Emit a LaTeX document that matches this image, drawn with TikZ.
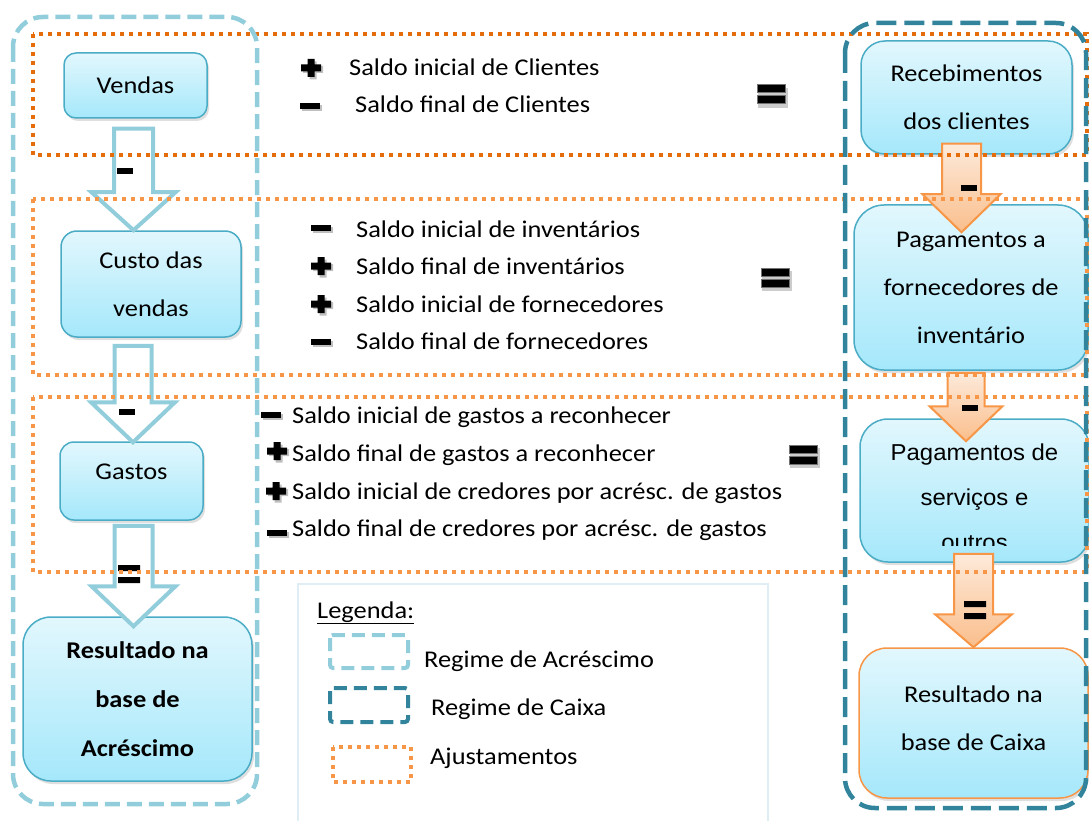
\documentclass[tikz,border=0pt]{standalone}
\usepackage{fontspec}
\setmainfont{Carlito}[FakeStretch=1.1]
\newfontfamily\arialfont{Liberation Sans}[FakeStretch=1.04]
\usepackage{tikz}
\usetikzlibrary{positioning,calc,shadows}

\definecolor{acrblue}{RGB}{146,205,220}
\definecolor{caixateal}{RGB}{49,132,155}
\definecolor{ajdark}{RGB}{228,108,10}
\definecolor{ajlight}{RGB}{247,150,70}
\definecolor{boxline}{RGB}{75,172,198}
\definecolor{boxtop}{RGB}{226,247,253}
\definecolor{boxbot}{RGB}{165,232,251}
\definecolor{arrtop}{RGB}{253,234,218}
\definecolor{arrbot}{RGB}{250,190,140}
\definecolor{legline}{RGB}{222,238,244}

\tikzset{
  flowbox/.style={draw=boxline, line width=1.5pt, rounded corners=24pt, top color=boxtop, bottom color=boxbot,
    align=center, inner sep=0pt, font=\fontsize{24}{48}\selectfont,
    drop shadow={opacity=0.25, shadow xshift=2pt, shadow yshift=-3pt}},
  adjtext/.style={anchor=base west, inner sep=0pt, font=\fontsize{24}{28}\selectfont},
  accarrow/.style={draw=acrblue, line width=4pt, fill=white},
  cxarrow/.style={draw=ajlight, line width=2pt, top color=arrtop, bottom color=arrbot},
  ajframe/.style={line width=4pt, dash pattern=on 4pt off 5pt},
  acrframe/.style={draw=acrblue, line width=4.5pt, dash pattern=on 15pt off 7pt},
  cxframe/.style={draw=caixateal, line width=4.5pt, dash pattern=on 20pt off 8pt},
  plussign/.pic={
    \fill[black!25] (-8,-2) rectangle (12,5) (-1.5,-6.5) rectangle (5.5,11.5);
    \fill (-10,-3.5) rectangle (10,3.5) (-3.5,-9) rectangle (3.5,9);},
  minussign/.pic={
    \fill[black!25] (-8,-1) rectangle (12,5);
    \fill (-10,-3) rectangle (10,3);},
  equalsign/.pic={
    \fill[black!20] (-13,-7) rectangle (17,13);
    \filldraw[draw=black!55, fill=black, line width=1pt] (-14,-10) rectangle (14,-2) (-14,1) rectangle (14,9);},
  smallminus/.pic={\fill (-8,-3) rectangle (8,3);},
  smallequal/.pic={\fill (-11,-9) rectangle (11,-3) (-11,3) rectangle (11,9);}
}

% block arrow: start, tip, shaft half width, head half width, head length
\newcommand{\blockarrow}[6][]{%
  \draw[#1] let \p1=(#2), \p2=(#3) in
    (\x1-#4pt,\y1) -- (\x1-#4pt,\y2+#6pt) -- (\x1-#5pt,\y2+#6pt) -- (\x1,\y2)
    -- (\x1+#5pt,\y2+#6pt) -- (\x1+#4pt,\y2+#6pt) -- (\x1+#4pt,\y1) -- cycle;}

\begin{document}
\begin{tikzpicture}[x=1pt, y=-1pt]
  \clip (0,0) rectangle (1089,821);

  % Regime de acrescimo
  \node[flowbox, rounded corners=12pt, minimum width=143pt, minimum height=65pt] (vendas) at (135.5,85.5) {Vendas};
  \node[flowbox, rounded corners=16pt, minimum width=180pt, minimum height=106pt] (custo) at (151,284) {Custo das\\vendas};
  \node[flowbox, rounded corners=14pt, minimum width=143pt, minimum height=78pt, text depth=18pt] (gastos) at (131.5,481) {Gastos};
  \node[flowbox, rounded corners=28pt, minimum width=229pt, minimum height=164pt, font=\bfseries\fontsize{24}{49}\selectfont] (resacr) at (137.5,699) {Resultado na\\base de\\Acréscimo};

  \blockarrow[accarrow]{[xshift=-2pt,yshift=-10pt]vendas.south}{custo.north}{19.5}{42}{38}
  \blockarrow[accarrow]{[xshift=-18pt,yshift=-8pt]custo.south}{[yshift=-1pt]gastos.north}{18.5}{42}{40}
  \blockarrow[accarrow]{[xshift=2pt,yshift=-5pt]gastos.south}{[yshift=-10pt]resacr.north}{19}{42}{40}
  \pic at (125,171) {smallminus};
  \pic at (127,412) {smallminus};
  \pic at (129,574) {smallequal};

  % Regime de caixa
  \node[flowbox, minimum width=211pt, minimum height=113pt] (receb) at (966.5,97.5) {Recebimentos\\dos clientes};
  \node[flowbox, rounded corners=30pt, minimum width=234pt, minimum height=165pt] (pagforn) at (971,287.5) {Pagamentos a\\fornecedores de\\inventário};
  \node[flowbox, rounded corners=28pt, minimum width=229pt, minimum height=143pt] (pagserv) at (974.5,490.5) {};
  \begin{scope}
    \clip (860,419) rectangle (1089,545);
    \node[align=center, inner sep=0pt, font=\arialfont\fontsize{23}{45}\selectfont] (pagservtxt) at (974.5,497) {Pagamentos de\\serviços e\\outros};
  \end{scope}
  \node[flowbox, draw=ajlight, rounded corners=28pt, minimum width=229pt, minimum height=150pt, text depth=10pt] (rescx) at (973.5,723) {Resultado na\\base de Caixa};

  \blockarrow[cxarrow]{[xshift=-5pt,yshift=11pt]receb.south}{[yshift=-28pt]pagforn.north}{19.5}{39}{38}
  \blockarrow[cxarrow]{[xshift=-5pt,yshift=-2pt]pagforn.south}{[yshift=-23pt]pagserv.north}{18.5}{36.5}{35}
  \blockarrow[cxarrow]{[xshift=-1pt,yshift=9pt]pagserv.south}{rescx.north}{19.5}{38.5}{33}
  \pic at (969,188) {smallminus};
  \pic at (970,408) {smallminus};
  \pic at (975,610) {smallequal};

  % Ajustamentos
  \pic at (311,68) {plussign};
  \node[adjtext] (cli1) at (349,76) {Saldo inicial de Clientes};
  \pic at (310,106) {minussign};
  \node[adjtext] (cli2) at (355,113) {Saldo final de Clientes};
  \pic at (771,95) {equalsign};

  \pic at (321,228) {minussign};
  \node[adjtext] (inv1) at (356,237) {Saldo inicial de inventários};
  \pic at (321,266) {plussign};
  \node[adjtext] (inv2) at (356,274) {Saldo final de inventários};
  \pic at (321,304) {plussign};
  \node[adjtext] (inv3) at (356,312) {Saldo inicial de fornecedores};
  \pic at (321,342) {minussign};
  \node[adjtext] (inv4) at (356,349) {Saldo final de fornecedores};
  \pic at (775,278) {equalsign};

  \pic at (271,415) {minussign};
  \node[adjtext] (gas1) at (292,423) {Saldo inicial de gastos a reconhecer};
  \pic at (277,451) {plussign};
  \node[adjtext] (gas2) at (292,461) {Saldo final de gastos a reconhecer};
  \pic at (276,491) {plussign};
  \node[adjtext] (gas3) at (292,499) {Saldo inicial de credores por acrésc. de gastos};
  \pic at (277,533) {minussign};
  \node[adjtext] (gas4) at (292,536) {Saldo final de credores por acrésc. de gastos};
  \pic at (803,455) {equalsign};

  \draw[ajframe, draw=ajdark] (33,34) rectangle (1087,155);
  \draw[ajframe, draw=ajlight] (33,199) rectangle (1087,375);
  \draw[ajframe, draw=ajlight] (33,397) rectangle (1087,572);

  \draw[acrframe, rounded corners=30pt] (13,17) rectangle (257,804);
  \draw[cxframe, rounded corners=30pt] (845,23) rectangle (1086,808);

  % Legenda
  \node[draw=legline, line width=1.5pt, minimum width=470pt, minimum height=260pt, anchor=north west] (legenda) at (297,583) {};
  \node[adjtext] (legtitle) at (317,618) {\underline{Legenda:}};
  \draw[acrframe, line width=4pt, dash pattern=on 13pt off 7pt, rounded corners=3pt] (330,635) rectangle (408,668);
  \node[adjtext] (legacr) at (424,667) {Regime de Acréscimo};
  \draw[cxframe, line width=4pt, dash pattern=on 13pt off 7pt, rounded corners=3pt] (330,688) rectangle (408,722);
  \node[adjtext] (legcx) at (431,715) {Regime de Caixa};
  \draw[ajframe, draw=ajlight, line width=3.5pt] (333,747) rectangle (411,782);
  \node[adjtext] (legaj) at (430,764) {Ajustamentos};
\end{tikzpicture}
\end{document}
